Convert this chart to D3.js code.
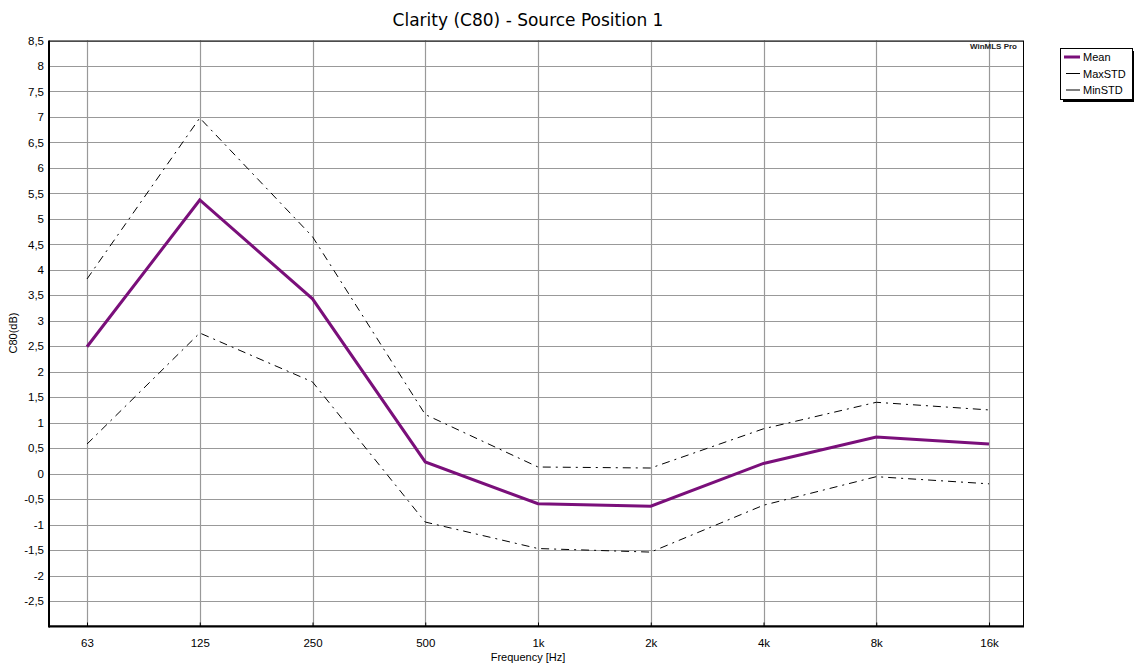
<!DOCTYPE html>
<html><head><meta charset="utf-8">
<script src="https://cdn.jsdelivr.net/npm/d3@7"></script>
<style>body{margin:0;background:#fff;} svg{display:block;}</style>
</head><body>
<svg id="chart" width="1134" height="666"></svg>
<script>
const categories = ["63","125","250","500","1k","2k","4k","8k","16k"];
const meanValues = [2.49, 5.37, 3.43, 0.23, -0.59, -0.64, 0.2, 0.72, 0.58];
const maxStdValues = [3.82, 6.98, 4.65, 1.16, 0.13, 0.11, 0.88, 1.4, 1.25];
const minStdValues = [0.58, 2.76, 1.8, -0.95, -1.47, -1.54, -0.62, -0.06, -0.2];
const yTicks = [-2.5,-2,-1.5,-1,-0.5,0,0.5,1,1.5,2,2.5,3,3.5,4,4.5,5,5.5,6,6.5,7,7.5,8,8.5];
const seriesNames = ["Mean","MaxSTD","MinSTD"];

const svg = d3.select("#chart");
const L = 49, R = 1024, T = 40.5, B = 626.5;
const x = d3.scalePoint().domain(categories).range([87, 989]);
const y = d3.scaleLinear().domain([-3, 8.5]).range([B, T]);
const fmt = v => String(v).replace(".", ",");
const font = "Liberation Sans, Arial, sans-serif";

// grid
const g = svg.append("g");
g.selectAll(".hg").data(yTicks).join("line")
  .attr("x1", L).attr("x2", R).attr("y1", d => Math.round(y(d))+0.5).attr("y2", d => Math.round(y(d))+0.5)
  .attr("stroke", "#999").attr("stroke-width", 1.2);
g.selectAll(".vg").data(categories).join("line")
  .attr("x1", d => Math.round(x(d))+0.5).attr("x2", d => Math.round(x(d))+0.5).attr("y1", T).attr("y2", B)
  .attr("stroke", "#999").attr("stroke-width", 1.2);

// y axis labels
const yAxis = d3.axisLeft(y).tickValues(yTicks).tickSize(0).tickPadding(5).tickFormat(fmt);
svg.append("g").attr("transform", `translate(${L},0)`).call(yAxis)
  .call(s => s.select(".domain").remove())
  .selectAll("text").attr("font-family", font).attr("font-size", 11.5).attr("fill", "#000");

// x axis
const xAxis = d3.axisBottom(x).tickSize(-4).tickPadding(12);
svg.append("g").attr("transform", `translate(0,${B})`).call(xAxis)
  .call(s => s.select(".domain").remove())
  .call(s => s.selectAll(".tick line").attr("stroke", "#000"))
  .selectAll("text").attr("font-family", font).attr("font-size", 11.5).attr("fill", "#000");

// frame
svg.append("rect").attr("x", L+0.5).attr("y", T+0.5).attr("width", R-L-1).attr("height", B-T-1)
  .attr("fill", "none").attr("stroke", "#000").attr("stroke-width", 1);
svg.append("line").attr("x1", L).attr("x2", L).attr("y1", T).attr("y2", B+1).attr("stroke", "#000").attr("stroke-width", 2);
svg.append("line").attr("x1", L).attr("x2", R).attr("y1", B).attr("y2", B).attr("stroke", "#000").attr("stroke-width", 2);

// lines
const line = d3.line().x((d,i) => x(categories[i])).y(d => y(d));
svg.append("path").datum(maxStdValues).attr("d", line).attr("fill", "none")
  .attr("stroke", "#000").attr("stroke-width", 1).attr("stroke-dasharray", "8,5,2,5");
svg.append("path").datum(minStdValues).attr("d", line).attr("fill", "none")
  .attr("stroke", "#000").attr("stroke-width", 1).attr("stroke-dasharray", "8,5,2,5");
svg.append("path").datum(meanValues).attr("d", line).attr("fill", "none")
  .attr("stroke", "#7a0f7a").attr("stroke-width", 3).attr("stroke-linejoin", "miter");

// title & labels
svg.append("text").attr("x", 528).attr("y", 26).attr("text-anchor", "middle")
  .attr("font-family", "DejaVu Sans, Verdana, sans-serif").attr("font-size", 17).text("Clarity (C80) - Source Position 1");
svg.append("text").attr("x", 528).attr("y", 661).attr("text-anchor", "middle")
  .attr("font-family", font).attr("font-size", 11).text("Frequency [Hz]");
svg.append("text").attr("transform", "translate(17,333) rotate(-90)").attr("text-anchor", "middle")
  .attr("font-family", font).attr("font-size", 11).text("C80(dB)");
svg.append("text").attr("x", 1017).attr("y", 49).attr("text-anchor", "end")
  .attr("font-family", font).attr("font-size", 8).attr("font-weight", "bold").attr("fill", "#222")
  .attr("textLength", 47).text("WinMLS Pro");

// legend
const lg = svg.append("g");
lg.append("rect").attr("x", 1063).attr("y", 51).attr("width", 72).attr("height", 51).attr("fill", "#000");
lg.append("rect").attr("x", 1060.5).attr("y", 48.5).attr("width", 72).attr("height", 51).attr("fill", "#fff").attr("stroke", "#000");
seriesNames.forEach((n, i) => {
  const yy = 57 + i * 16.5;
  lg.append("line").attr("x1", i === 0 ? 1064 : 1066).attr("x2", 1080).attr("y1", yy).attr("y2", yy)
    .attr("stroke", i === 0 ? "#7a0f7a" : "#000").attr("stroke-width", i === 0 ? 3 : 1);
  lg.append("text").attr("x", 1083).attr("y", yy + 4).attr("font-family", font).attr("font-size", 11).text(n);
});
</script>
</body></html>
